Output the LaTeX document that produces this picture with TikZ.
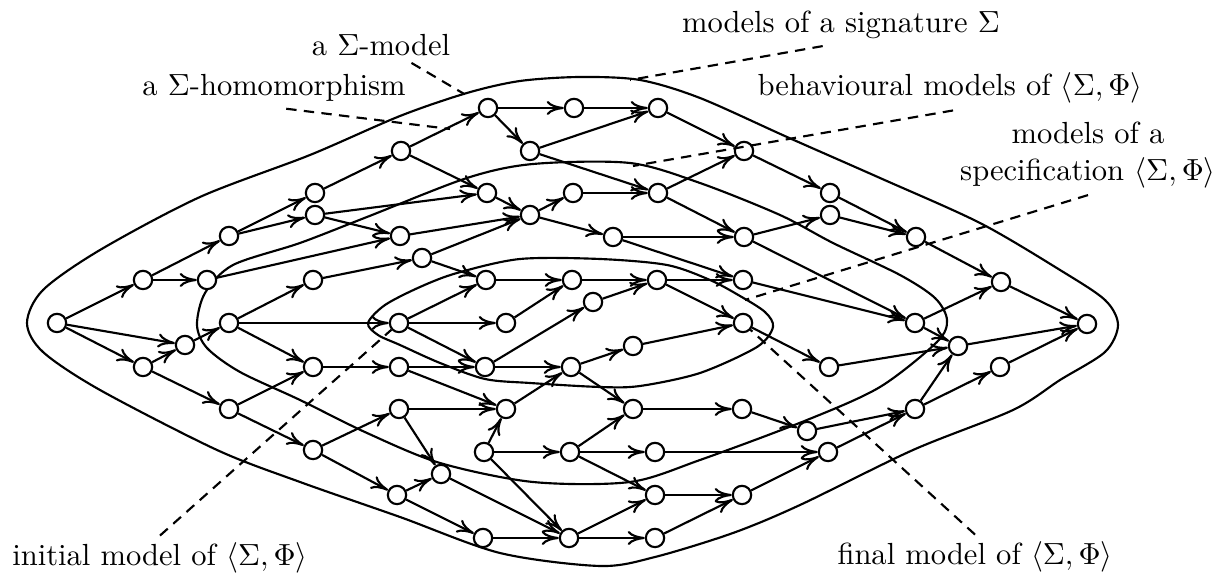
\documentclass[tikz,border=0pt]{standalone}
\usepackage{amsmath,amssymb}
\usepackage{tikz}
\usetikzlibrary{arrows.meta}

\begin{document}
\begin{tikzpicture}[x=0.0115cm, y=-0.0115cm, >={To[length=5.6pt,width=4.6pt]}, line width=0.7pt]
    \tikzstyle{model} = [circle, draw, fill=white, inner sep=0pt, minimum size=6pt]
    \tikzstyle{hom} = [draw, ->]
    \tikzstyle{region} = [draw, line join=round]
    \tikzstyle{pointer} = [draw, dash pattern=on 3.4pt off 2.4pt]
    \tikzstyle{caption} = [align=center, inner sep=2pt]

    \useasboundingbox (0,0) rectangle (1231,577);

    % the three classes of models
    \path [region] plot [smooth cycle] coordinates {(27,323) (43,290) (100,250) (200,197) (310,155) (400,116) (467,93) (520,81) (580,77) (640,80) (700,98) (787,137) (880,178) (980,223) (1060,270) (1105,300) (1118,325) (1105,352) (1060,380) (1013,410) (913,450) (800,505) (733,533) (655,557) (600,566) (500,553) (400,517) (300,482) (217,450) (100,390) (43,352)};
    \path [region] plot [smooth cycle] coordinates {(197,325) (205,293) (233,265) (300,243) (367,217) (467,178) (533,164) (630,163) (700,183) (780,215) (833,243) (900,275) (935,298) (947,320) (937,342) (880,387) (807,420) (700,460) (630,482) (533,482) (440,463) (367,433) (300,400) (240,372) (207,348)};
    \path [region] plot [smooth cycle] coordinates {(368,323) (385,305) (420,287) (457,273) (520,259) (600,259) (667,265) (710,280) (740,296) (765,312) (773,327) (757,347) (700,373) (640,386) (600,387) (530,383) (485,379) (440,363) (400,345) (378,335)};

    % models
    \node [model] (m1) at (57,323) {};
    \node [model] (m2) at (143,280) {};
    \node [model] (m3) at (207,280) {};
    \node [model] (m4) at (143,367) {};
    \node [model] (m5) at (185,345) {};
    \node [model] (m6) at (229,236) {};
    \node [model] (m7) at (229,323) {};
    \node [model] (m8) at (229,409) {};
    \node [model] (m9) at (315,193) {};
    \node [model] (m10) at (315,215) {};
    \node [model] (m11) at (313,280) {};
    \node [model] (m12) at (313,367) {};
    \node [model] (m13) at (313,450) {};
    \node [model] (m14) at (401,151) {};
    \node [model] (m15) at (400,236) {};
    \node [model] (m16) at (422,258) {};
    \node [model] (m17) at (399,323) {};
    \node [model] (m18) at (399,367) {};
    \node [model] (m19) at (399,409) {};
    \node [model] (m20) at (441,474) {};
    \node [model] (m21) at (397,495) {};
    \node [model] (m22) at (488,108) {};
    \node [model] (m23) at (530,151) {};
    \node [model] (m24) at (487,193) {};
    \node [model] (m25) at (530,215) {};
    \node [model] (m26) at (486,280) {};
    \node [model] (m27) at (506,323) {};
    \node [model] (m28) at (485,367) {};
    \node [model] (m29) at (506,409) {};
    \node [model] (m30) at (484,452) {};
    \node [model] (m31) at (483,538) {};
    \node [model] (m32) at (574,108) {};
    \node [model] (m33) at (573,193) {};
    \node [model] (m34) at (613,237) {};
    \node [model] (m35) at (572,280) {};
    \node [model] (m36) at (593,302) {};
    \node [model] (m37) at (571,367) {};
    \node [model] (m38) at (633,346) {};
    \node [model] (m39) at (633,409) {};
    \node [model] (m40) at (570,452) {};
    \node [model] (m41) at (569,538) {};
    \node [model] (m42) at (658,108) {};
    \node [model] (m43) at (658,193) {};
    \node [model] (m44) at (657,280) {};
    \node [model] (m45) at (655,452) {};
    \node [model] (m46) at (655,495) {};
    \node [model] (m47) at (655,538) {};
    \node [model] (m48) at (744,151) {};
    \node [model] (m49) at (744,237) {};
    \node [model] (m50) at (743,280) {};
    \node [model] (m51) at (743,323) {};
    \node [model] (m52) at (742,409) {};
    \node [model] (m53) at (742,495) {};
    \node [model] (m54) at (830,193) {};
    \node [model] (m55) at (830,215) {};
    \node [model] (m56) at (829,367) {};
    \node [model] (m57) at (807,431) {};
    \node [model] (m58) at (828,452) {};
    \node [model] (m59) at (916,237) {};
    \node [model] (m60) at (915,323) {};
    \node [model] (m61) at (915,409) {};
    \node [model] (m62) at (958,346) {};
    \node [model] (m63) at (1001,282) {};
    \node [model] (m64) at (1000,367) {};
    \node [model] (m65) at (1087,324) {};

    % homomorphisms
    \path [hom] (m1) -- (m2);
    \path [hom] (m1) -- (m5);
    \path [hom] (m1) -- (m4);
    \path [hom] (m4) -- (m5);
    \path [hom] (m4) -- (m8);
    \path [hom] (m2) -- (m6);
    \path [hom] (m2) -- (m3);
    \path [hom] (m3) -- (m15);
    \path [hom] (m5) -- (m7);
    \path [hom] (m6) -- (m9);
    \path [hom] (m6) -- (m10);
    \path [hom] (m7) -- (m11);
    \path [hom] (m7) -- (m17);
    \path [hom] (m7) -- (m12);
    \path [hom] (m8) -- (m12);
    \path [hom] (m8) -- (m13);
    \path [hom] (m9) -- (m14);
    \path [hom] (m10) -- (m24);
    \path [hom] (m10) -- (m15);
    \path [hom] (m11) -- (m16);
    \path [hom] (m12) -- (m18);
    \path [hom] (m13) -- (m19);
    \path [hom] (m13) -- (m21);
    \path [hom] (m14) -- (m22);
    \path [hom] (m14) -- (m24);
    \path [hom] (m15) -- (m25);
    \path [hom] (m16) -- (m25);
    \path [hom] (m16) -- (m26);
    \path [hom] (m17) -- (m26);
    \path [hom] (m17) -- (m27);
    \path [hom] (m17) -- (m28);
    \path [hom] (m18) -- (m28);
    \path [hom] (m18) -- (m29);
    \path [hom] (m19) -- (m29);
    \path [hom] (m19) -- (m20);
    \path [hom] (m21) -- (m20);
    \path [hom] (m21) -- (m31);
    \path [hom] (m20) -- (m41);
    \path [hom] (m22) -- (m32);
    \path [hom] (m22) -- (m23);
    \path [hom] (m23) -- (m42);
    \path [hom] (m23) -- (m43);
    \path [hom] (m24) -- (m25);
    \path [hom] (m25) -- (m33);
    \path [hom] (m25) -- (m34);
    \path [hom] (m26) -- (m35);
    \path [hom] (m27) -- (m35);
    \path [hom] (m28) -- (m36);
    \path [hom] (m28) -- (m37);
    \path [hom] (m29) -- (m37);
    \path [hom] (m30) -- (m29);
    \path [hom] (m30) -- (m40);
    \path [hom] (m30) -- (m41);
    \path [hom] (m31) -- (m41);
    \path [hom] (m32) -- (m42);
    \path [hom] (m33) -- (m43);
    \path [hom] (m34) -- (m49);
    \path [hom] (m34) -- (m50);
    \path [hom] (m35) -- (m44);
    \path [hom] (m36) -- (m44);
    \path [hom] (m37) -- (m38);
    \path [hom] (m37) -- (m39);
    \path [hom] (m38) -- (m51);
    \path [hom] (m39) -- (m52);
    \path [hom] (m40) -- (m39);
    \path [hom] (m40) -- (m45);
    \path [hom] (m40) -- (m46);
    \path [hom] (m41) -- (m46);
    \path [hom] (m41) -- (m47);
    \path [hom] (m42) -- (m48);
    \path [hom] (m43) -- (m48);
    \path [hom] (m43) -- (m49);
    \path [hom] (m44) -- (m51);
    \path [hom] (m44) -- (m50);
    \path [hom] (m45) -- (m58);
    \path [hom] (m46) -- (m53);
    \path [hom] (m47) -- (m53);
    \path [hom] (m48) -- (m54);
    \path [hom] (m49) -- (m55);
    \path [hom] (m49) -- (m60);
    \path [hom] (m50) -- (m60);
    \path [hom] (m51) -- (m56);
    \path [hom] (m52) -- (m57);
    \path [hom] (m53) -- (m58);
    \path [hom] (m54) -- (m59);
    \path [hom] (m55) -- (m59);
    \path [hom] (m56) -- (m62);
    \path [hom] (m57) -- (m61);
    \path [hom] (m58) -- (m61);
    \path [hom] (m59) -- (m63);
    \path [hom] (m60) -- (m63);
    \path [hom] (m60) -- (m62);
    \path [hom] (m61) -- (m62);
    \path [hom] (m61) -- (m64);
    \path [hom] (m62) -- (m65);
    \path [hom] (m63) -- (m65);
    \path [hom] (m64) -- (m65);

    % captions
    \node [caption] (smodel) at (381,45) {a $\Sigma$-model};
    \node [caption] (shom) at (274,88) {a $\Sigma$-homomorphism};
    \node [caption] (sig) at (841,25) {models of a signature $\Sigma$};
    \node [caption] (beh) at (950,88) {behavioural models of $\langle\Sigma,\Phi\rangle$};
    \node [caption] (spec) at (1088,155) {models of a\\specification $\langle\Sigma,\Phi\rangle$};
    \node [caption] (initial) at (160,558) {initial model of $\langle\Sigma,\Phi\rangle$};
    \node [caption] (final) at (975,557) {final model of $\langle\Sigma,\Phi\rangle$};

    \coordinate (homtip) at (450,129);
    \coordinate (sigtip) at (630,80);
    \coordinate (behtip) at (633,166);
    \coordinate (spectip) at (745,300);

    \path [pointer, shorten >=5.5pt] (smodel) -- (m22);
    \path [pointer] ([xshift=4pt]shom.south) -- (homtip);
    \path [pointer] ([xshift=-6pt]sig.south) -- (sigtip);
    \path [pointer] ([xshift=1pt]beh.south) -- (behtip);
    \path [pointer] (spec.south) -- (spectip);
    \path [pointer] (initial.north) -- (m17);
    \path [pointer] (final.north) -- (m51);
\end{tikzpicture}
\end{document}
